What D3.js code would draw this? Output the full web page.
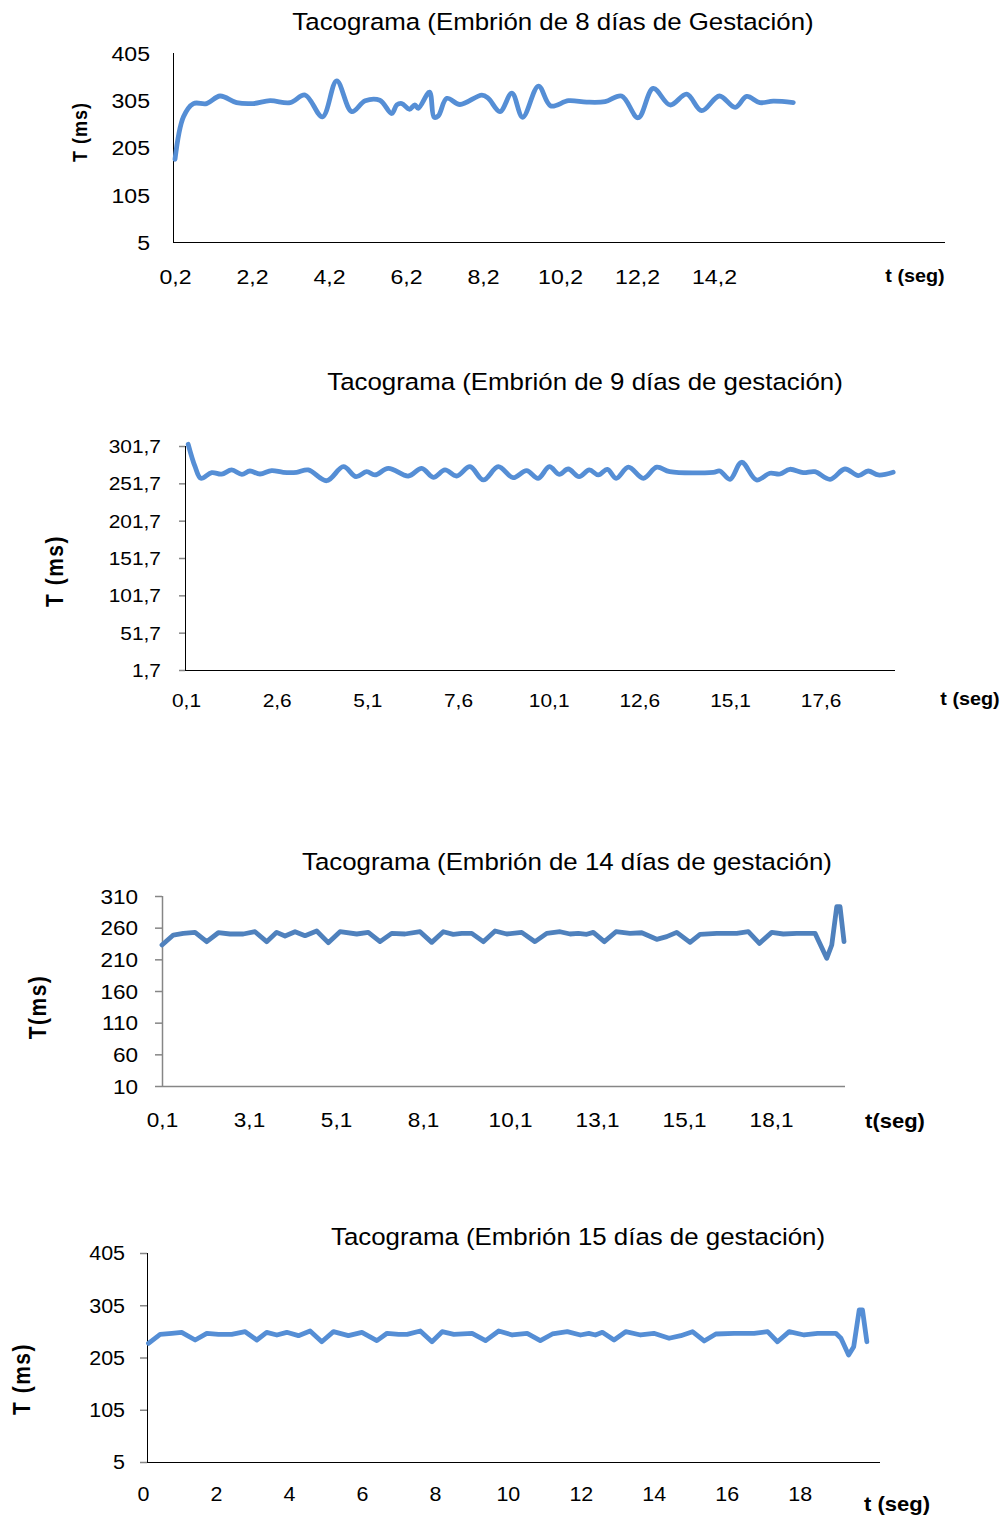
<!DOCTYPE html>
<html>
<head>
<meta charset="utf-8">
<script src="https://cdn.jsdelivr.net/npm/d3@7"></script>
<style>
  html, body { margin: 0; padding: 0; background: #fff; }
  svg { display: block; }
  text { font-family: "Liberation Sans", Arial, sans-serif; fill: #000; }
</style>
</head>
<body>
<svg id="chart" width="1008" height="1517"></svg>
<script>
// Tacograma, embrión de 8 días: tiempo (s) y periodo T (ms)
const t8 = [0.2, 0.42, 0.68, 1.02, 1.37, 1.80, 2.23, 2.67, 3.19, 3.58, 4.03, 4.40, 4.79, 5.14, 5.52,
  5.83, 5.96, 6.09, 6.29, 6.43, 6.52, 6.81, 6.93, 7.04, 7.26, 7.60, 8.17, 8.34, 8.64, 8.95, 9.23,
  9.64, 9.96, 10.42, 10.89, 11.37, 11.80, 12.23, 12.62, 13.06, 13.49, 13.88, 14.34, 14.75, 15.05,
  15.39, 15.74, 16.26];
const T8 = [180, 270, 298, 298, 314, 300, 298, 304, 300, 316, 270, 346, 281, 304, 305,
  277, 295, 298, 286, 295, 288, 322, 269, 272, 309, 296, 316, 309, 281, 320, 269,
  335, 293, 304, 301, 302, 314, 268, 330, 295, 318, 283, 314, 290, 313,
  300, 303, 300];
const xTicks8 = [0.2, 2.2, 4.2, 6.2, 8.2, 10.2, 12.2, 14.2];
const yTicks8 = [5, 105, 205, 305, 405];

// Embrión de 9 días
const t9 = [0.16, 0.35, 0.51, 0.81, 1.08, 1.36, 1.64, 1.86, 2.14, 2.46, 2.78, 3.15, 3.47, 3.98,
  4.44, 4.79, 5.08, 5.31, 5.68, 6.23, 6.60, 6.92, 7.24, 7.56, 7.93, 8.30, 8.71, 9.12, 9.49,
  9.81, 10.12, 10.39, 10.64, 10.94, 11.22, 11.47, 11.72, 11.96, 12.30, 12.71, 13.08, 13.44,
  14.64, 14.82, 15.10, 15.42, 15.83, 16.20, 16.48, 16.75, 17.12, 17.44, 17.86, 18.27, 18.64,
  18.91, 19.19, 19.60];
const T9 = [304, 274, 258.4, 266, 264, 269.6, 263.8, 268.2, 264.2, 268.8, 266.5, 266.5, 269.6, 255.2,
  274, 260.6, 267.3, 262.9, 271.8, 261.5, 271.8, 259.8, 269.6, 261.5, 274, 256.2, 274, 259.3, 268.8,
  258.4, 274, 263.8, 270.9, 260.6, 269.6, 262.9, 270.5, 258.4, 273.3, 258.4, 273.3, 267.3,
  266.5, 268.2, 257.1, 279.9, 256.2, 265.2, 264.2, 270.5, 266, 267.3, 257.1, 270.9, 262,
  268.2, 262.9, 266.5];
const xTicks9 = [0.1, 2.6, 5.1, 7.6, 10.1, 12.6, 15.1, 17.6];
const yTicks9 = [1.7, 51.7, 101.7, 151.7, 201.7, 251.7, 301.7];

// Embrión de 14 días: número de latido y T (ms); el eje muestra el tiempo cada 10 latidos
const beat14 = [0, 1.3, 2.45, 3.8, 5.14, 6.47, 7.82, 9.34, 10.69, 12.03, 13.18, 14.14, 15.29, 16.44,
  17.78, 19.11, 20.46, 22.38, 23.71, 25.06, 26.4, 27.93, 29.66, 31.0, 32.33, 33.48, 34.45, 35.6,
  36.93, 38.28, 39.62, 41.34, 42.87, 44.22, 45.75, 46.9, 47.85, 48.82, 49.57, 50.84, 52.18,
  53.79, 55.14, 56.86, 58.01, 59.16, 60.69, 61.84, 63.76, 66.06, 67.39, 68.66, 70.08, 71.41,
  72.95, 75.06, 76.4, 76.98, 77.55, 77.93, 78.39];
const T14 = [232.6, 248.4, 251, 252.6, 237.9, 252, 250, 250, 253.6, 237.9, 252.6, 246.8, 253.6, 247.3,
  254.7, 236.3, 253.6, 250, 252.6, 237.9, 251, 250, 253.6, 236.8, 253.6, 249.5, 251, 251,
  237.9, 254.7, 250, 252.6, 237.9, 251, 253.6, 250, 251, 249.5, 252.6, 237.9, 253.6,
  251, 252, 241.6, 245.8, 252.6, 236.8, 249.5, 251, 251, 253.6, 235.2, 252.6, 250,
  251, 251, 211.6, 232.6, 293.1, 293.1, 237.9];
const tickBeats14 = [0, 10, 20, 30, 40, 50, 60, 70];
const tickLabels14 = ["0,1", "3,1", "5,1", "8,1", "10,1", "13,1", "15,1", "18,1"];
const yTicks14 = [10, 60, 110, 160, 210, 260, 310];

// Embrión de 15 días
const t15 = [0.15, 0.47, 0.79, 1.06, 1.43, 1.75, 2.07, 2.43, 2.80, 3.12, 3.39, 3.67, 3.94, 4.26,
  4.58, 4.90, 5.22, 5.63, 6.00, 6.41, 6.69, 7.01, 7.24, 7.60, 7.92, 8.20, 8.52, 9.02, 9.39,
  9.75, 10.12, 10.53, 10.89, 11.22, 11.63, 11.99, 12.22, 12.40, 12.59, 12.91, 13.23, 13.64,
  14.00, 14.42, 14.74, 15.06, 15.38, 15.70, 16.20, 16.75, 17.12, 17.39, 17.71, 18.12, 18.49,
  18.99, 19.13, 19.34, 19.48, 19.63, 19.72, 19.84];
const T15 = [232, 249.4, 251.3, 253.2, 238.5, 251.3, 249.4, 249.4, 254.4, 238.5, 253.2, 248.1, 253.2, 246.8,
  255.7, 235.2, 254.4, 246.8, 253.2, 237.2, 251.3, 249.4, 249.4, 255.7, 235.2, 254.4, 249.4, 251.3, 237.2,
  255.7, 248.1, 251.3, 237.2, 250, 254.4, 248.1, 251.3, 248.1, 253.2, 238.5, 254.4, 248.1,
  251.3, 241.8, 246.8, 254.4, 236.6, 250, 251.3, 251.3, 254.4, 235.2, 254.4, 248.1, 251.3,
  251.3, 241.8, 209.8, 225.7, 295.9, 295.9, 235.2];
const xTicks15 = [0, 2, 4, 6, 8, 10, 12, 14, 16, 18];
const yTicks15 = [5, 105, 205, 305, 405];

const es = d3.formatLocale({ decimal: ",", thousands: ".", grouping: [3], currency: ["", " €"] });
const fmt1 = es.format(".1f");
const fmt0 = es.format("d");

const SX = 1.1; // text is drawn slightly wide
const svg = d3.select("#chart");

function drawChart(c) {
  const g = svg.append("g");
  const x = d3.scaleLinear().domain(c.xDomain).range([c.x0, c.x1]);
  const y = d3.scaleLinear().domain(c.yDomain).range([c.yBot, c.yTop]);

  // y axis
  const ya = g.append("g")
    .attr("transform", `translate(${c.x0},0)`)
    .call(d3.axisLeft(y).tickValues(c.yTicks).tickFormat(c.yFmt)
      .tickSize(c.yTickLen).tickSizeOuter(0));
  ya.select(".domain").attr("stroke", c.yAxisColor).attr("stroke-width", c.axisWidth)
    .attr("d", `M0.5,${c.yTop}V${c.yBot}`);
  ya.selectAll(".tick line").attr("stroke", c.tickColor).attr("stroke-width", 1.5)
    .attr("x1", 0).attr("x2", -c.yTickLen);
  ya.selectAll(".tick text")
    .attr("x", 0).attr("dy", "0.35em")
    .attr("transform", `translate(${-c.yLabelGap},0) scale(${SX},1)`)
    .style("font-family", c.font).style("font-size", c.tickFont + "px").attr("fill", "#000");

  // x axis
  const xa = g.append("g")
    .attr("transform", `translate(0,${c.yBot})`)
    .call(d3.axisBottom(x).tickValues(c.xTicks).tickFormat(c.xFmt).tickSize(0).tickSizeOuter(0));
  xa.select(".domain").attr("stroke", c.xAxisColor).attr("stroke-width", c.axisWidth)
    .attr("d", `M${c.x0},0.5H${c.x1}`);
  xa.selectAll(".tick text")
    .attr("y", 0).attr("dy", "0.35em")
    .attr("transform", `translate(0,${c.xLabelGap}) scale(${SX},1)`)
    .style("font-family", c.font).style("font-size", c.tickFont + "px").attr("fill", "#000");

  // series
  const pts = c.xs.map((v, i) => [v, c.ys[i]]);
  g.append("path")
    .datum(pts)
    .attr("fill", "none")
    .attr("stroke", c.color)
    .attr("stroke-width", 4.8)
    .attr("stroke-linejoin", "round")
    .attr("stroke-linecap", "round")
    .attr("d", d3.line().x(d => x(d[0])).y(d => y(d[1])).curve(c.curve));

  // titles
  g.append("text")
    .attr("text-anchor", "middle").attr("dy", "0.35em")
    .attr("transform", `translate(${c.titlePos[0]},${c.titlePos[1]}) scale(${SX},1)`)
    .style("font-size", "23.5px").style("font-family", c.font)
    .text(c.title);
  g.append("text")
    .attr("text-anchor", "middle").attr("dy", "0.35em")
    .attr("transform", `translate(${c.yTitlePos[0]},${c.yTitlePos[1]}) rotate(-90) scale(1,${SX})`)
    .style("font-size", c.yTitleFont + "px").style("font-weight", "bold")
    .style("letter-spacing", c.yTitleSpacing + "px")
    .text(c.yTitle);
  g.append("text")
    .attr("text-anchor", "middle").attr("dy", "0.35em")
    .attr("transform", `translate(${c.xTitlePos[0]},${c.xTitlePos[1]}) scale(${SX},1)`)
    .style("font-size", c.xTitleFont + "px").style("font-weight", "bold")
    .text(c.xTitle);
}

const smooth = d3.curveCatmullRom.alpha(0.5);
const FONT = '"Liberation Sans", Arial, sans-serif';

drawChart({
  x0: 173, x1: 945, yTop: 53, yBot: 242,
  xDomain: [0.148, 20.2], yDomain: [5, 405],
  xTicks: xTicks8, yTicks: yTicks8, xFmt: fmt1, yFmt: fmt0,
  xs: t8, ys: T8, color: "#558ED5", curve: smooth,
  yTickLen: 0, yLabelGap: 23, xLabelGap: 35, tickFont: 21, font: FONT,
  yAxisColor: "#000", xAxisColor: "#000", tickColor: "#868686", axisWidth: 1,
  title: "Tacograma (Embrión de 8 días de Gestación)", titlePos: [553, 22],
  yTitle: "T (ms)", yTitlePos: [80, 132], yTitleFont: 18, yTitleSpacing: 1,
  xTitle: "t (seg)", xTitlePos: [915, 276], xTitleFont: 18
});

drawChart({
  x0: 185, x1: 895, yTop: 446, yBot: 670,
  xDomain: [0.072, 19.65], yDomain: [1.7, 301.7],
  xTicks: xTicks9, yTicks: yTicks9, xFmt: fmt1, yFmt: fmt1,
  xs: t9, ys: T9, color: "#558ED5", curve: smooth,
  yTickLen: 6, yLabelGap: 24, xLabelGap: 30, tickFont: 19, font: FONT,
  yAxisColor: "#000", xAxisColor: "#000", tickColor: "#868686", axisWidth: 1,
  title: "Tacograma (Embrión de 9 días de gestación)", titlePos: [585, 382],
  yTitle: "T (ms)", yTitlePos: [55, 571], yTitleFont: 21, yTitleSpacing: 1.5,
  xTitle: "t (seg)", xTitlePos: [970, 699], xTitleFont: 18
});

drawChart({
  x0: 162, x1: 845, yTop: 896, yBot: 1086,
  xDomain: [0, 78.5], yDomain: [10, 310],
  xTicks: tickBeats14, yTicks: yTicks14,
  xFmt: (d, i) => tickLabels14[i], yFmt: fmt0,
  xs: beat14, ys: T14, color: "#4F81BD", curve: d3.curveLinear,
  yTickLen: 7, yLabelGap: 24, xLabelGap: 34, tickFont: 20.5, font: FONT,
  yAxisColor: "#868686", xAxisColor: "#868686", tickColor: "#868686", axisWidth: 1.5,
  title: "Tacograma (Embrión de 14 días de gestación)", titlePos: [567, 862],
  yTitle: "T(ms)", yTitlePos: [38, 1007], yTitleFont: 21, yTitleSpacing: 1.5,
  xTitle: "t(seg)", xTitlePos: [895, 1121], xTitleFont: 20
});

drawChart({
  x0: 147, x1: 880, yTop: 1253, yBot: 1462,
  xDomain: [0.11, 20.2], yDomain: [5, 405],
  xTicks: xTicks15, yTicks: yTicks15, xFmt: fmt0, yFmt: fmt0,
  xs: t15, ys: T15, color: "#558ED5", curve: d3.curveLinear,
  yTickLen: 7, yLabelGap: 22, xLabelGap: 32, tickFont: 19.5, font: FONT,
  yAxisColor: "#000", xAxisColor: "#000", tickColor: "#868686", axisWidth: 1,
  title: "Tacograma (Embrión 15 días de gestación)", titlePos: [578, 1237],
  yTitle: "T (ms)", yTitlePos: [22, 1379], yTitleFont: 21, yTitleSpacing: 1.5,
  xTitle: "t (seg)", xTitlePos: [897, 1504], xTitleFont: 20
});
</script>
</body>
</html>
